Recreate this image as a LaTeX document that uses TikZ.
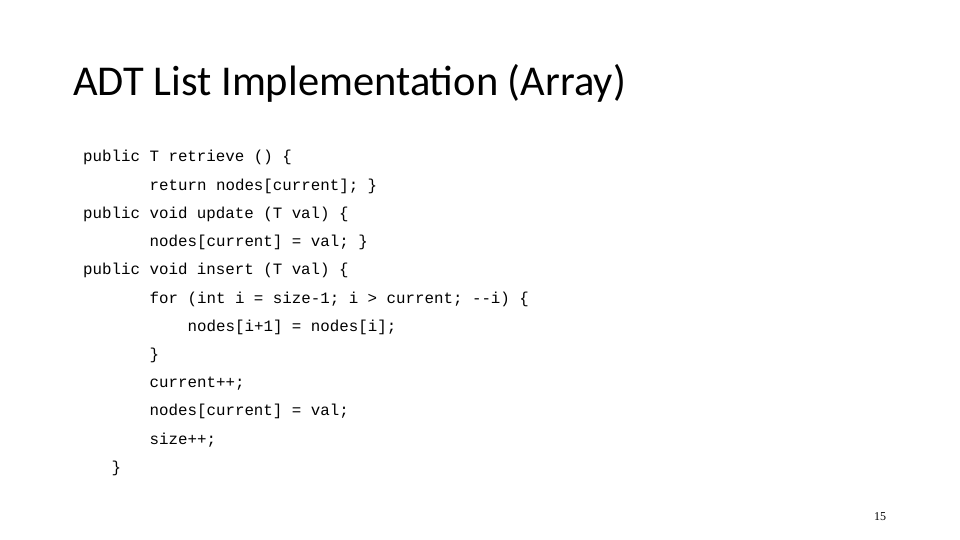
\documentclass[tikz,border=0pt]{standalone}
\usepackage{fontspec}
\setmainfont{Liberation Serif}
\newfontfamily\titlefont{Carlito}
\newfontfamily\codefont{Liberation Mono}
\begin{document}
\begin{tikzpicture}[x=1pt,y=-1pt,
  code/.style={anchor=base west,inner sep=0pt,font=\codefont\fontsize{15.8}{18}\selectfont}]
\useasboundingbox[fill=white] (0,0) rectangle (960,540);
\node[anchor=base west,inner sep=0pt,font=\titlefont\fontsize{42.5}{46}\selectfont] (title) at (73,96) {ADT List Implementation (Array)};
\def\cw{9.5}
\foreach \i/\c/\t in {
 0/0/{public T retrieve () \{},
 1/7/{return nodes[current]; \}},
 2/0/{public void update (T val) \{},
 3/7/{nodes[current] = val; \}},
 4/0/{public void insert (T val) \{},
 5/7/{for (int i = size-1; i > current; -{}-i) \{},
 6/11/{nodes[i+1] = nodes[i];},
 7/7/{\}},
 8/7/{current++;},
 9/7/{nodes[current] = val;},
 10/7/{size++;},
 11/3/{\}}}
 \node[code] (l\i) at ({83+\c*\cw},{162+\i*28.2}) {\t};
\node[anchor=base,inner sep=0pt,font=\fontsize{12}{14}\selectfont] (pg) at (880,520) {15};
\end{tikzpicture}
\end{document}
